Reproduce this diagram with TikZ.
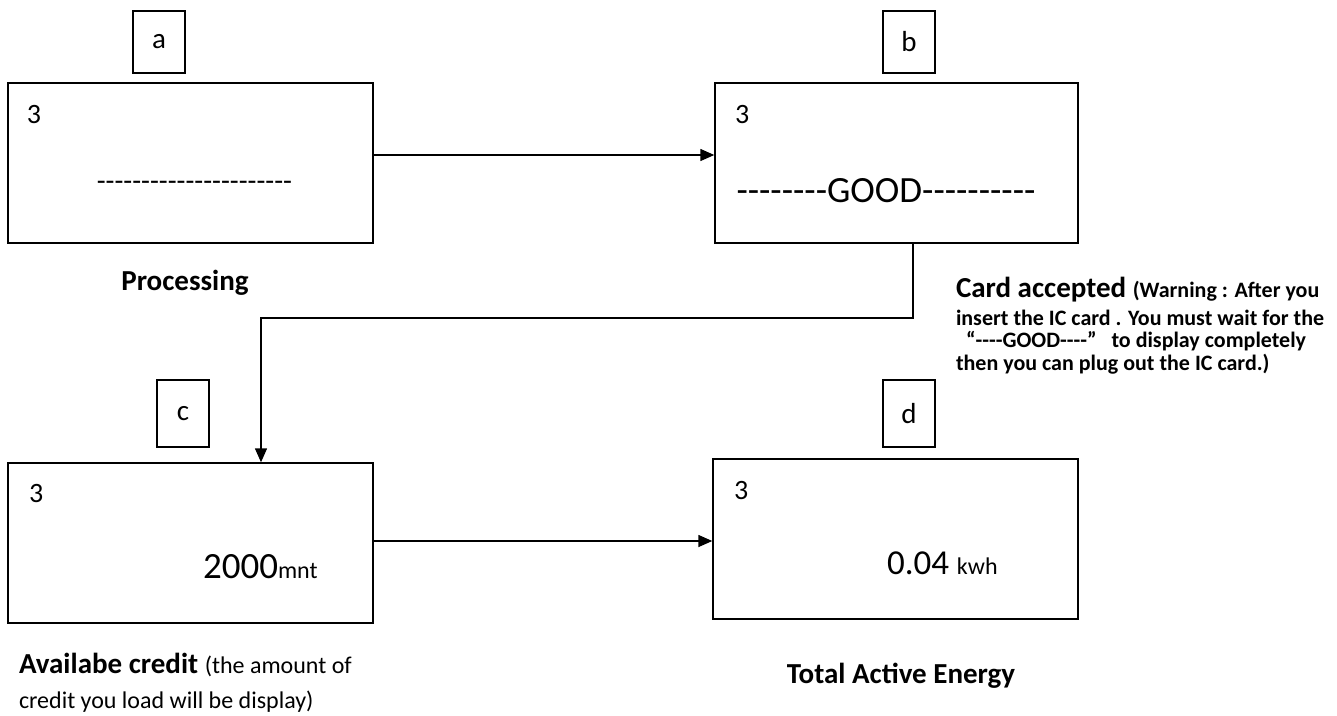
\documentclass[tikz,border=0pt]{standalone}
\usepackage{fontspec}
\setmainfont{Carlito}[Ligatures=TeXOff]
\usetikzlibrary{arrows.meta}
\begin{document}
\begin{tikzpicture}[x=1pt,y=-1pt,
  screen/.style={draw,line width=1.4pt,rectangle,inner sep=0pt},
  tag/.style={draw,line width=1.4pt,rectangle,inner sep=0pt,minimum width=52pt,font=\fontsize{29}{32}\selectfont},
  txt/.style={inner sep=0pt,outer sep=0pt},
  digit/.style={inner sep=0pt,outer sep=0pt,anchor=base west,font=\fontsize{28}{32}\selectfont},
  warn/.style={inner sep=0pt,outer sep=0pt,anchor=base west,font=\bfseries\fontsize{22}{26}\selectfont},
  conn/.style={line width=1.4pt},
  arr/.style={line width=1.4pt,-{Triangle[length=14pt,width=12pt]}}]
\useasboundingbox (0,0) rectangle (1337,715);
% screens
\node[screen,minimum width=365pt,minimum height=160pt] (A) at (190.5,163) {};
\node[screen,minimum width=363pt,minimum height=160pt] (B) at (896.5,163) {};
\node[screen,minimum width=365pt,minimum height=160pt] (C) at (190.5,543) {};
\node[screen,minimum width=365pt,minimum height=160pt] (D) at (895.5,539) {};
% tags
\node[tag,minimum height=62pt] (ta) at (159,42) {a};
\node[tag,minimum height=62pt] (tb) at (909,42) {b};
\node[tag,minimum height=67pt] (tc) at (183,413.5) {c};
\node[tag,minimum height=67pt] (td) at (909,413.5) {d};
% screen contents
\node[digit] (a3) at (27,123) {3};
\node[digit] (b3) at (735,123) {3};
\node[digit] (c3) at (29,502) {3};
\node[digit] (d3) at (734,499) {3};
\node[txt,anchor=base,font=\fontsize{29}{32}\selectfont] (adash) at (194.5,190) {----------------------};
\node[txt,anchor=base,font=\fontsize{37}{40}\selectfont] (good) at (886,202) {--------GOOD----------};
\node[txt,anchor=base west] (credit) at (203,578) {\fontsize{37}{40}\selectfont 2000\fontsize{24}{28}\selectfont mnt};
\node[txt,anchor=base west] (energy) at (887,574) {\fontsize{35}{40}\selectfont 0.04 \fontsize{24}{28}\selectfont kwh};
% captions
\node[txt,anchor=base,font=\bfseries\fontsize{29}{32}\selectfont] (capa) at (185,290) {Processing};
\node[txt,anchor=base west] (capb1) at (956,297) {\bfseries\fontsize{29}{32}\selectfont Card accepted \fontsize{22}{26}\selectfont(Warning : After you};
\node[warn] (capb2) at (956,325) {insert the IC card . You must wait for the};
\node[warn] (capb3) at (966,347) {“----GOOD----”\ \ \ to display completely};
\node[warn] (capb4) at (956,370) {then you can plug out the IC card.)};
\node[txt,anchor=base west] (capc1) at (19,673) {\bfseries\fontsize{29}{32}\selectfont Availabe credit \mdseries\fontsize{24}{28}\selectfont(the amount of};
\node[txt,anchor=base west,font=\fontsize{24}{28}\selectfont] (capc2) at (19,708) {credit you load will be display)};
\node[txt,anchor=base,font=\bfseries\fontsize{29}{32}\selectfont] (capd) at (901,683) {Total Active Energy};
% connectors
\coordinate (yab) at (0,155);
\coordinate (ycd) at (0,541);
\coordinate (bc1) at (913,318);
\coordinate (bc2) at (261,318);
\draw[arr] (A.east |- yab) -- (B.west |- yab);
\draw[arr] (C.east |- ycd) -- (D.west |- ycd);
\draw[arr] (bc1 |- B.south) -- (bc1) -- (bc2) -- (bc2 |- C.north);
\end{tikzpicture}
\end{document}
